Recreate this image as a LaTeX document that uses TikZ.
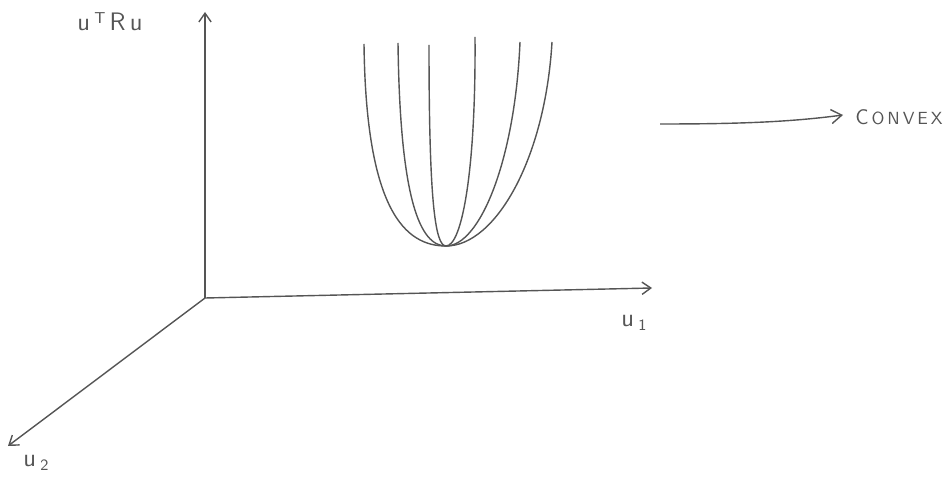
\documentclass[tikz,border=0pt]{standalone}
\usepackage{amsmath}
\usepackage{tikz}
\usetikzlibrary{arrows.meta,positioning}
\definecolor{pencil}{RGB}{85,85,85}

\begin{document}
\begin{tikzpicture}[
  x=0.02cm,y=-0.02cm,
  axis/.style={draw=pencil,line width=0.8pt,-{Straight Barb[length=5pt,width=7pt]}},
  bowl/.style={draw=pencil,line width=0.8pt},
  lbl/.style={text=pencil,font=\Large\sffamily},
  arrow/.style={draw=pencil,line width=0.8pt,-{Straight Barb[length=6pt,width=8pt]}}
]
\useasboundingbox (0,0) rectangle (949,479);

% axes
\coordinate (o) at (205,298);
\coordinate (zt) at (205,12);
\coordinate (xt) at (652,288);
\coordinate (yt) at (8,446);
\draw[axis] (o) -- (zt);
\draw[axis] (o) -- (xt);
\draw[axis] (o) -- (yt);

\node[lbl] (zl) at (110,22) {u\,\raisebox{0.6ex}{\small T}\,R\,u};
\node[lbl] (xl) at (634,323) {u\,\raisebox{-0.4ex}{\small 1}};
\node[lbl] (yl) at (36,463) {u\,\raisebox{-0.4ex}{\small 2}};

% family of bowls
\coordinate (v) at (446,246);
\draw[bowl] (364,44) .. controls (366,210) and (405,246) .. (v)
  .. controls (495,246) and (545,160) .. (552,42);
\draw[bowl] (398,43) .. controls (400,200) and (420,246) .. (v)
  .. controls (480,246) and (515,160) .. (520,42);
\draw[bowl] (429,45) .. controls (429,200) and (435,246) .. (v)
  .. controls (462,246) and (476,170) .. (475,37);

% convex label
\coordinate (ca) at (660,124);
\node[text=pencil,font=\sffamily] (cv) at (899,117) {{\large C}\,O\,N\,V\,E\,X};
\coordinate (cb) at (843,115);
\draw[arrow] (ca) .. controls (740,124) and (790,122) .. (cb);
\end{tikzpicture}
\end{document}
